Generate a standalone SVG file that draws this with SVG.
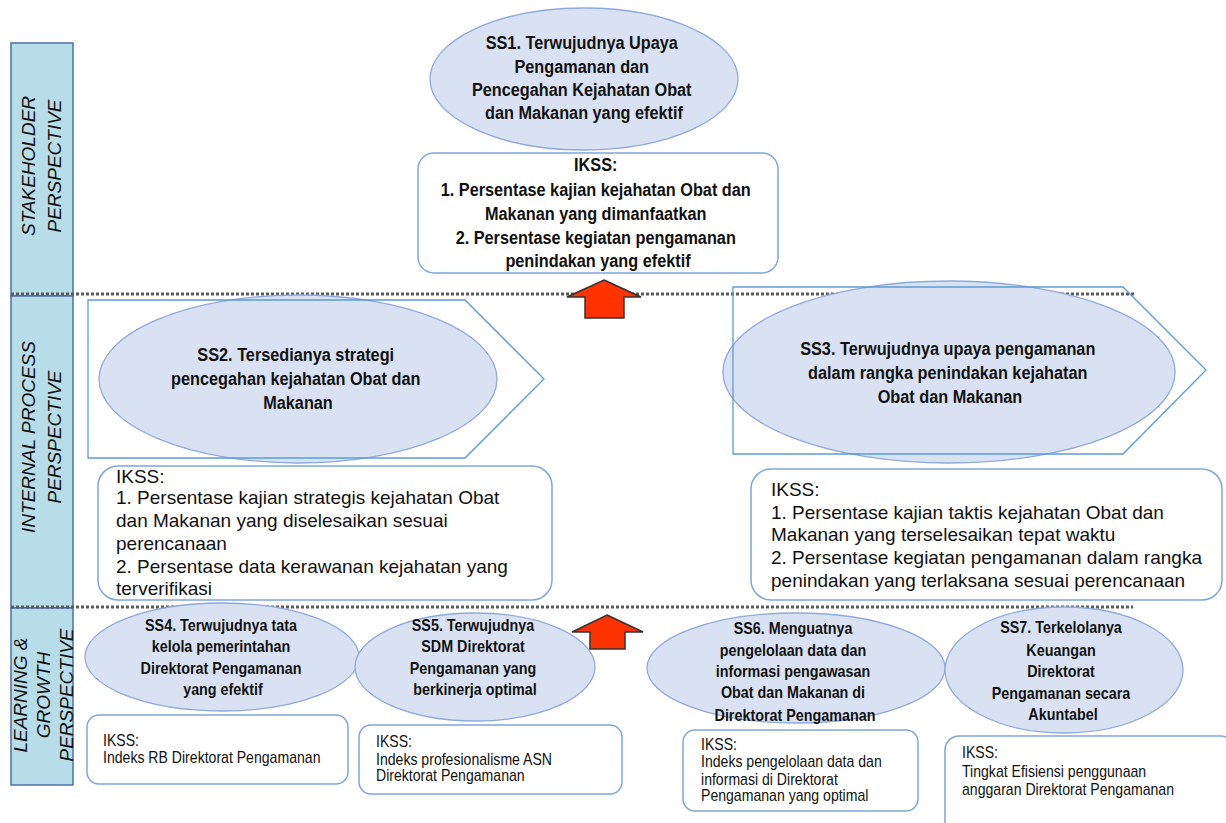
<svg xmlns="http://www.w3.org/2000/svg" width="1226" height="823" viewBox="0 0 1226 823">
<style>
.bar{fill:#b7dde8;stroke:#4f6fa8;stroke-width:1.5}
.bt{font-family:"Liberation Sans",Arial,sans-serif;font-style:italic;font-size:19px;fill:#111;text-anchor:middle}
.ell{fill:#d9e2f3;stroke:#8eaadb;stroke-width:1.3}
.box{fill:#fff;stroke:#7ea6dc;stroke-width:1.5}
.pent{fill:none;stroke:#5b9bd5;stroke-width:1.3}
.ttl{font-family:"Liberation Sans",Arial,sans-serif;font-weight:bold;text-anchor:middle;fill:#111}
.reg{font-family:"Liberation Sans",Arial,sans-serif;font-size:19px;fill:#111}
.sm{font-family:"Liberation Sans",Arial,sans-serif;font-size:16px;fill:#111}
.dot{stroke:#5a5a5a;stroke-width:3;stroke-dasharray:3 2;fill:none}
.arrow{fill:#ff3300;stroke:#333;stroke-width:1.5}
</style>
<rect width="1226" height="823" fill="#fff"/>

<g id="perspectives">
  <g id="stakeholder">
    <rect class="bar" x="11" y="43" width="62" height="253"/>
    <text class="bt" transform="translate(35,166) rotate(-90)">STAKEHOLDER</text>
    <text class="bt" transform="translate(61,166) rotate(-90)">PERSPECTIVE</text>
  </g>
  <g id="internal">
    <rect class="bar" x="11" y="296" width="62" height="312"/>
    <text class="bt" transform="translate(35,437) rotate(-90)">INTERNAL PROCESS</text>
    <text class="bt" transform="translate(61,437) rotate(-90)">PERSPECTIVE</text>
  </g>
  <g id="learning">
    <rect class="bar" x="11" y="608" width="62" height="177"/>
    <text class="bt" transform="translate(27,695) rotate(-90)">LEARNING &amp;</text>
    <text class="bt" transform="translate(50,695) rotate(-90)">GROWTH</text>
    <text class="bt" transform="translate(73,695) rotate(-90)">PERSPECTIVE</text>
  </g>
</g>

<g id="dividers">
  <line class="dot" x1="11" y1="294" x2="1136" y2="294"/>
  <line class="dot" x1="11" y1="607" x2="1133" y2="607"/>
</g>

<g id="ss1">
  <ellipse class="ell" cx="584" cy="79" rx="154" ry="71"/>
  <text class="ttl" font-size="18.5" transform="translate(584,0) scale(0.88,1)">
    <tspan x="0" y="49">SS1. Terwujudnya Upaya</tspan>
    <tspan x="0" y="73">Pengamanan dan</tspan>
    <tspan x="0" y="96">Pencegahan Kejahatan Obat</tspan>
    <tspan x="0" y="119">dan Makanan yang efektif</tspan>
  </text>
</g>
<g id="ikss1">
  <rect class="box" x="418" y="153" width="360" height="120" rx="16"/>
  <text class="ttl" font-size="18.5" transform="translate(598,0) scale(0.88,1)">
    <tspan x="0" y="171">IKSS:</tspan>
    <tspan x="0" y="196">1. Persentase kajian kejahatan Obat dan</tspan>
    <tspan x="0" y="220">Makanan yang dimanfaatkan</tspan>
    <tspan x="0" y="244">2. Persentase kegiatan pengamanan</tspan>
    <tspan x="0" y="267">penindakan yang efektif</tspan>
  </text>
</g>

<g id="ss2">
  <ellipse class="ell" cx="298" cy="379" rx="199" ry="84"/>
  <polygon class="pent" points="88,300 465,300 544,379 465,458 88,458"/>
  <text class="ttl" font-size="18.5" transform="translate(298,0) scale(0.88,1)">
    <tspan x="0" y="361">SS2. Tersedianya strategi</tspan>
    <tspan x="0" y="385">pencegahan kejahatan Obat dan</tspan>
    <tspan x="0" y="409">Makanan</tspan>
  </text>
</g>
<g id="ikss2">
  <rect class="box" x="98" y="466" width="454" height="134" rx="20"/>
  <text class="reg">
    <tspan x="116" y="483">IKSS:</tspan>
    <tspan x="116" y="504">1. Persentase kajian strategis kejahatan Obat</tspan>
    <tspan x="116" y="527">dan Makanan yang diselesaikan sesuai</tspan>
    <tspan x="116" y="550">perencanaan</tspan>
    <tspan x="116" y="573">2. Persentase data kerawanan kejahatan yang</tspan>
    <tspan x="116" y="595">terverifikasi</tspan>
  </text>
</g>

<g id="ss3">
  <ellipse class="ell" cx="949" cy="372" rx="226" ry="91"/>
  <polygon class="pent" points="733,287 1123,287 1206,370 1123,454 733,454"/>
  <text class="ttl" font-size="18.5" transform="translate(950,0) scale(0.88,1)">
    <tspan x="0" y="355">SS3. Terwujudnya upaya pengamanan</tspan>
    <tspan x="0" y="379">dalam rangka penindakan kejahatan</tspan>
    <tspan x="0" y="403">Obat dan Makanan</tspan>
  </text>
</g>
<g id="ikss3">
  <rect class="box" x="751" y="469" width="471" height="131" rx="20"/>
  <text class="reg">
    <tspan x="771" y="496">IKSS:</tspan>
    <tspan x="771" y="519">1. Persentase kajian taktis kejahatan Obat dan</tspan>
    <tspan x="771" y="541">Makanan yang terselesaikan tepat waktu</tspan>
    <tspan x="771" y="564">2. Persentase kegiatan pengamanan dalam rangka</tspan>
    <tspan x="771" y="587">penindakan yang terlaksana sesuai perencanaan</tspan>
  </text>
</g>

<g id="ss4">
  <ellipse class="ell" cx="222" cy="657" rx="137" ry="54"/>
  <text class="ttl" font-size="16.3" transform="translate(223,0) scale(0.88,1)">
    <tspan x="0" y="631">SS4. Terwujudnya tata</tspan>
    <tspan x="0" y="652">kelola pemerintahan</tspan>
    <tspan x="0" y="674">Direktorat Pengamanan</tspan>
    <tspan x="0" y="695">yang efektif</tspan>
  </text>
</g>
<g id="ikss4">
  <rect class="box" x="87" y="715" width="261" height="69" rx="12"/>
  <text class="sm" transform="translate(103,0) scale(0.88,1)">
    <tspan x="0" y="746">IKSS:</tspan>
    <tspan x="0" y="763">Indeks RB Direktorat Pengamanan</tspan>
  </text>
</g>

<g id="ss5">
  <ellipse class="ell" cx="475" cy="667" rx="120" ry="54"/>
  <text class="ttl" font-size="16.3" transform="translate(475,0) scale(0.88,1)">
    <tspan x="0" y="631">SS5. Terwujudnya</tspan>
    <tspan x="0" y="652">SDM Direktorat</tspan>
    <tspan x="0" y="674">Pengamanan yang</tspan>
    <tspan x="0" y="695">berkinerja optimal</tspan>
  </text>
</g>
<g id="ikss5">
  <rect class="box" x="359" y="725" width="263" height="69" rx="12"/>
  <text class="sm" transform="translate(376,0) scale(0.88,1)">
    <tspan x="0" y="747">IKSS:</tspan>
    <tspan x="0" y="765">Indeks profesionalisme ASN</tspan>
    <tspan x="0" y="781">Direktorat Pengamanan</tspan>
  </text>
</g>

<g id="ss6">
  <ellipse class="ell" cx="796" cy="668" rx="149" ry="55"/>
  <text class="ttl" font-size="16.3" transform="translate(795,0) scale(0.88,1)">
    <tspan x="0" y="634">SS6. Menguatnya</tspan>
    <tspan x="0" y="656">pengelolaan data dan</tspan>
    <tspan x="0" y="677">informasi pengawasan</tspan>
    <tspan x="0" y="698">Obat dan Makanan di</tspan>
    <tspan x="0" y="721">Direktorat Pengamanan</tspan>
  </text>
</g>
<g id="ikss6">
  <rect class="box" x="683" y="730" width="235" height="81" rx="12"/>
  <text class="sm" transform="translate(701,0) scale(0.88,1)">
    <tspan x="0" y="750">IKSS:</tspan>
    <tspan x="0" y="767">Indeks pengelolaan data dan</tspan>
    <tspan x="0" y="785">informasi di Direktorat</tspan>
    <tspan x="0" y="801">Pengamanan yang optimal</tspan>
  </text>
</g>

<g id="ss7">
  <ellipse class="ell" cx="1064" cy="670" rx="119" ry="63"/>
  <text class="ttl" font-size="16.3" transform="translate(1063,0) scale(0.88,1)">
    <tspan x="0" y="633">SS7. Terkelolanya</tspan>
    <tspan x="0" y="656">Keuangan</tspan>
    <tspan x="0" y="677">Direktorat</tspan>
    <tspan x="0" y="699">Pengamanan secara</tspan>
    <tspan x="0" y="720">Akuntabel</tspan>
  </text>
</g>
<g id="ikss7">
  <rect class="box" x="945" y="736" width="290" height="100" rx="14"/>
  <text class="sm" transform="translate(962,0) scale(0.88,1)">
    <tspan x="0" y="758">IKSS:</tspan>
    <tspan x="0" y="777">Tingkat Efisiensi penggunaan</tspan>
    <tspan x="0" y="795">anggaran Direktorat Pengamanan</tspan>
  </text>
</g>

<g id="connectors">
  <polygon class="arrow" points="604,280 641,297 624,297 624,318 585,318 585,297 567,297"/>
  <polygon class="arrow" points="607,615 643,632 625,632 625,649 590,649 590,632 572,632"/>
</g>
</svg>
